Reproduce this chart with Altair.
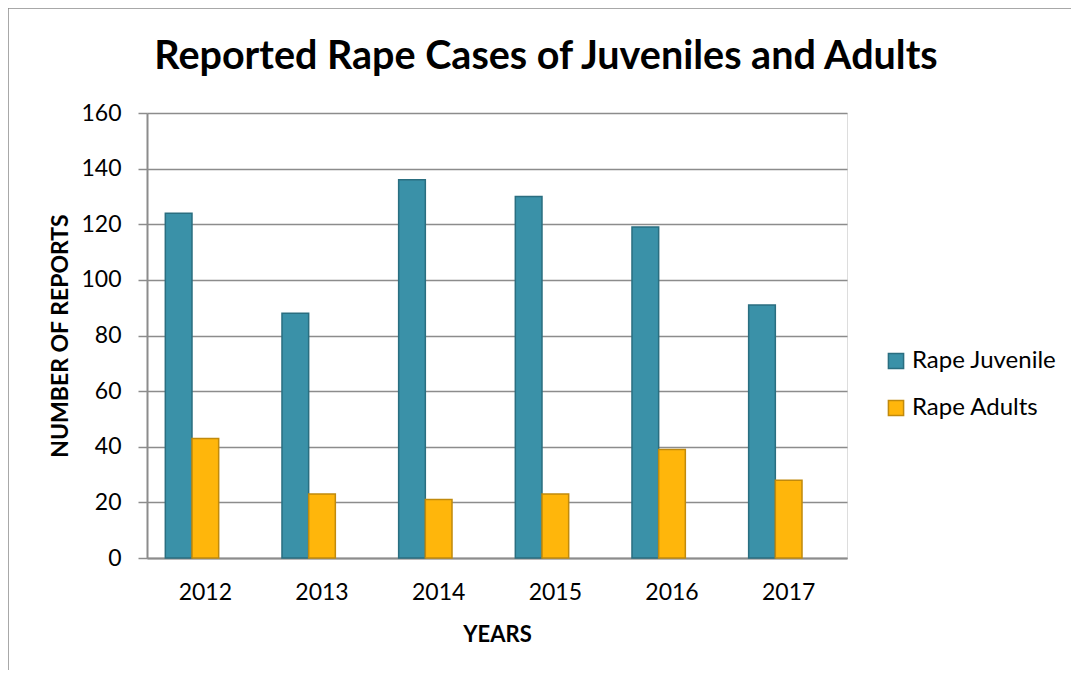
import altair as alt
import pandas as pd

years = ["2012", "2013", "2014", "2015", "2016", "2017"]
juvenile = [124, 88, 136, 130, 119, 91]
adults = [43, 23, 21, 23, 39, 28]
series = ["Rape Juvenile", "Rape Adults"]
offset_slots = ["Rape Juvenile", "Rape Adults", "(empty)"]
fill_colors = ["#3a91a8", "#ffb60b"]
stroke_colors = ["#2a6e80", "#c18a0c"]
y_ticks = [0, 20, 40, 60, 80, 100, 120, 140, 160]

rows = []
for i, yr in enumerate(years):
    rows.append({"year": yr, "series": series[0], "value": juvenile[i]})
    rows.append({"year": yr, "series": series[1], "value": adults[i]})
df = pd.DataFrame(rows)

FONT = "Lato"

legend_kw = dict(orient="none", legendX=737, legendY=236,
                 labelFontSize=24, labelFont=FONT, labelColor="#000000",
                 symbolType="square", symbolSize=230,
                 symbolStrokeWidth=1.5, rowPadding=23,
                 labelOffset=4, padding=0)

bars = alt.Chart(df).mark_bar(strokeWidth=1.5).encode(
    x=alt.X("year:N", title="YEARS",
            scale=alt.Scale(paddingInner=0.314, paddingOuter=0.157),
            axis=alt.Axis(labelAngle=0, tickSize=0, labelPadding=23,
                          labelFontSize=23, labelFont=FONT, labelColor="#000000",
                          titleFontSize=22, titleFont=FONT, titleFontWeight="bold",
                          titleColor="#000000", titleBaseline="middle", titleY=76,
                          domainColor="#8c8c8c", domainWidth=2)),
    xOffset=alt.XOffset("series:N", scale=alt.Scale(domain=offset_slots)),
    y=alt.Y("value:Q", title="NUMBER OF REPORTS",
            scale=alt.Scale(domain=[0, 160], nice=False),
            axis=alt.Axis(values=y_ticks, tickSize=9, tickColor="#8c8c8c", tickWidth=1.5,
                          labelPadding=17, labelFontSize=23, labelFont=FONT,
                          labelColor="#000000",
                          gridColor="#8c8c8c", gridWidth=1.5,
                          titleFontSize=23, titleFont=FONT, titleFontWeight="bold",
                          titleColor="#000000", titleBaseline="middle", titleX=-87,
                          titleY=222.5,
                          domainColor="#8c8c8c", domainWidth=2)),
    fill=alt.Fill("series:N", sort=series, title=None,
                  scale=alt.Scale(domain=series, range=fill_colors),
                  legend=alt.Legend(**legend_kw)),
    stroke=alt.Stroke("series:N", sort=series, title=None,
                      scale=alt.Scale(domain=series, range=stroke_colors),
                      legend=alt.Legend(**legend_kw)),
)

frame = alt.Chart(alt.Data(values=[{"a": 1}])).mark_rect(
    fill=None, stroke="#8c8c8c", strokeWidth=1.5
).encode(
    x=alt.value(-139), x2=alt.value(1200), y=alt.value(-105), y2=alt.value(800)
)

chart = alt.layer(frame, bars).properties(
    width=700, height=445,
    padding={"left": 139, "top": 105, "right": 224, "bottom": 112},
    autosize=alt.AutoSizeParams(type="none"),
    title=alt.TitleParams("Reported Rape Cases of Juveniles and Adults",
                          fontSize=39.5, font=FONT, fontWeight="bold", color="#000000",
                          anchor="middle", dx=49, offset=-101, baseline="alphabetic"),
).configure_view(fill="#e6e6e6", stroke=None).configure(background="white")

chart.save("out.html", embed_options={"renderer": "svg", "actions": False})
